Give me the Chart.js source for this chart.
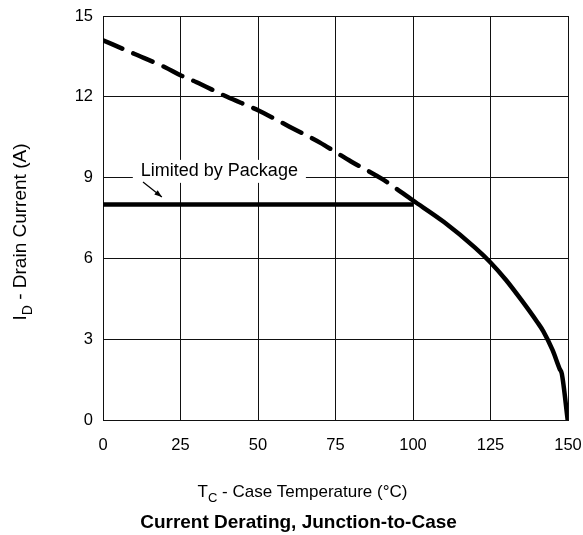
<!DOCTYPE html>
<html>
<head>
<meta charset="utf-8">
<script src="https://cdn.jsdelivr.net/npm/chart.js@4.4.1/dist/chart.umd.min.js"></script>
<style>
  html, body { margin: 0; padding: 0; background: #fff; }
  #wrap { width: 583px; height: 535px; }
</style>
</head>
<body>
<div id="wrap"><canvas id="derating"></canvas></div>
<script>
// Drain current vs case temperature
const dashTemp = [0, 10, 20, 25, 30, 40, 50, 60, 70, 75, 80, 90, 100];
const dashCurrent = [14.1, 13.6, 13.1, 12.8, 12.55, 12.0, 11.5, 10.9, 10.3, 9.95, 9.6, 8.95, 8.15];
const solidTemp = [100, 110, 120, 125, 130, 135, 140, 142, 145, 147.3, 148, 149.9];
const solidCurrent = [8.15, 7.35, 6.4, 5.85, 5.2, 4.45, 3.65, 3.3, 2.6, 1.9, 1.72, 0];
const packageTemp = [0, 100];
const packageCurrent = [8, 8];
const xTicks = [0, 25, 50, 75, 100, 125, 150];
const yTicks = [0, 3, 6, 9, 12, 15];

const FONT = '"Liberation Sans", Arial, Helvetica, sans-serif';

const toPoints = (xs, ys) => xs.map((x, i) => ({ x: x, y: ys[i] }));

// draws the "Limited by Package" note, axis titles with subscripts, and the caption
const notes = {
    id: 'notes',
    beforeDatasetsDraw(chart) {
        const ctx = chart.ctx;
        const xs = chart.scales.x, ys = chart.scales.y;
        const tx = xs.getPixelForValue(12.2);
        const ty = ys.getPixelForValue(9.25);
        ctx.save();
        ctx.font = '18px ' + FONT;
        const w = ctx.measureText('Limited by Package').width;
        ctx.fillStyle = '#fff';
        ctx.fillRect(tx - 8, ty - 11, w + 16, 23);
        ctx.fillStyle = '#000';
        ctx.textBaseline = 'middle';
        ctx.fillText('Limited by Package', tx, ty);
        // arrow
        const x1 = xs.getPixelForValue(12.9), y1 = ys.getPixelForValue(8.84);
        const x2 = xs.getPixelForValue(19.0), y2 = ys.getPixelForValue(8.28);
        ctx.strokeStyle = '#000';
        ctx.lineWidth = 1.2;
        ctx.beginPath();
        ctx.moveTo(x1, y1);
        ctx.lineTo(x2, y2);
        ctx.stroke();
        const a = Math.atan2(y2 - y1, x2 - x1);
        ctx.beginPath();
        ctx.moveTo(x2, y2);
        ctx.lineTo(x2 - 8 * Math.cos(a - 0.35), y2 - 8 * Math.sin(a - 0.35));
        ctx.lineTo(x2 - 8 * Math.cos(a + 0.35), y2 - 8 * Math.sin(a + 0.35));
        ctx.closePath();
        ctx.fill();
        ctx.restore();
    },
    afterDraw(chart) {
        const ctx = chart.ctx;
        const area = chart.chartArea;
        const cx = (area.left + area.right) / 2;
        ctx.save();
        ctx.fillStyle = '#000';
        ctx.textBaseline = 'alphabetic';

        // draws main + subscript + rest, centered on (0,0) in current transform
        const subText = (main, sub, rest, size) => {
            const small = Math.round(size * 0.75);
            ctx.font = size + 'px ' + FONT;
            const w1 = ctx.measureText(main).width;
            const w3 = ctx.measureText(rest).width;
            ctx.font = small + 'px ' + FONT;
            const w2 = ctx.measureText(sub).width;
            let x = -(w1 + w2 + w3) / 2;
            ctx.font = size + 'px ' + FONT;
            ctx.fillText(main, x, size * 0.36);
            x += w1;
            ctx.font = small + 'px ' + FONT;
            ctx.fillText(sub, x, size * 0.36 + size * 0.3);
            x += w2;
            ctx.font = size + 'px ' + FONT;
            ctx.fillText(rest, x, size * 0.36);
        };

        // x axis title
        ctx.save();
        ctx.translate(cx - 33, 491);
        subText('T', 'C', ' - Case Temperature (\u00B0C)', 17);
        ctx.restore();

        // y axis title
        ctx.save();
        ctx.translate(19, 232);
        ctx.rotate(-Math.PI / 2);
        subText('I', 'D', ' - Drain Current (A)', 19);
        ctx.restore();

        // caption
        ctx.font = 'bold 19px ' + FONT;
        ctx.textAlign = 'center';
        ctx.textBaseline = 'middle';
        ctx.fillText('Current Derating, Junction-to-Case', cx - 37, 523);
        ctx.restore();
    }
};

new Chart(document.getElementById('derating'), {
    type: 'scatter',
    data: {
        datasets: [
            {
                data: toPoints(dashTemp, dashCurrent),
                showLine: true,
                borderColor: '#000',
                borderWidth: 4.5,
                borderDash: [21, 12],
                borderCapStyle: 'round',
                cubicInterpolationMode: 'monotone',
                pointRadius: 0
            },
            {
                data: toPoints(solidTemp, solidCurrent),
                showLine: true,
                borderColor: '#000',
                borderWidth: 4.5,
                cubicInterpolationMode: 'monotone',
                pointRadius: 0
            },
            {
                data: toPoints(packageTemp, packageCurrent),
                showLine: true,
                borderColor: '#000',
                borderWidth: 4.5,
                pointRadius: 0
            }
        ]
    },
    options: {
        responsive: true,
        maintainAspectRatio: false,
        animation: false,
        layout: { padding: { top: 16, right: 15, left: 0, bottom: 0 } },
        plugins: {
            legend: { display: false },
            tooltip: { enabled: false }
        },
        scales: {
            x: {
                type: 'linear',
                min: 0,
                max: 150,
                afterBuildTicks: (s) => { s.ticks = xTicks.map(v => ({ value: v })); },
                afterFit: (s) => { s.height = 115; s.paddingLeft = 0; s.paddingRight = 0; },
                grid: { color: '#111', lineWidth: 1, drawTicks: false },
                border: { color: '#111', width: 1 },
                ticks: { color: '#000', padding: 16, font: { family: FONT, size: 16.5 } }
            },
            y: {
                type: 'linear',
                min: 0,
                max: 15,
                afterBuildTicks: (s) => { s.ticks = yTicks.map(v => ({ value: v })); },
                afterFit: (s) => { s.width = 103; s.paddingTop = 0; s.paddingBottom = 0; },
                grid: { color: '#111', lineWidth: 1, drawTicks: false },
                border: { color: '#111', width: 1 },
                ticks: { color: '#000', padding: 10, font: { family: FONT, size: 16.5 } }
            }
        }
    },
    plugins: [notes]
});
</script>
</body>
</html>
